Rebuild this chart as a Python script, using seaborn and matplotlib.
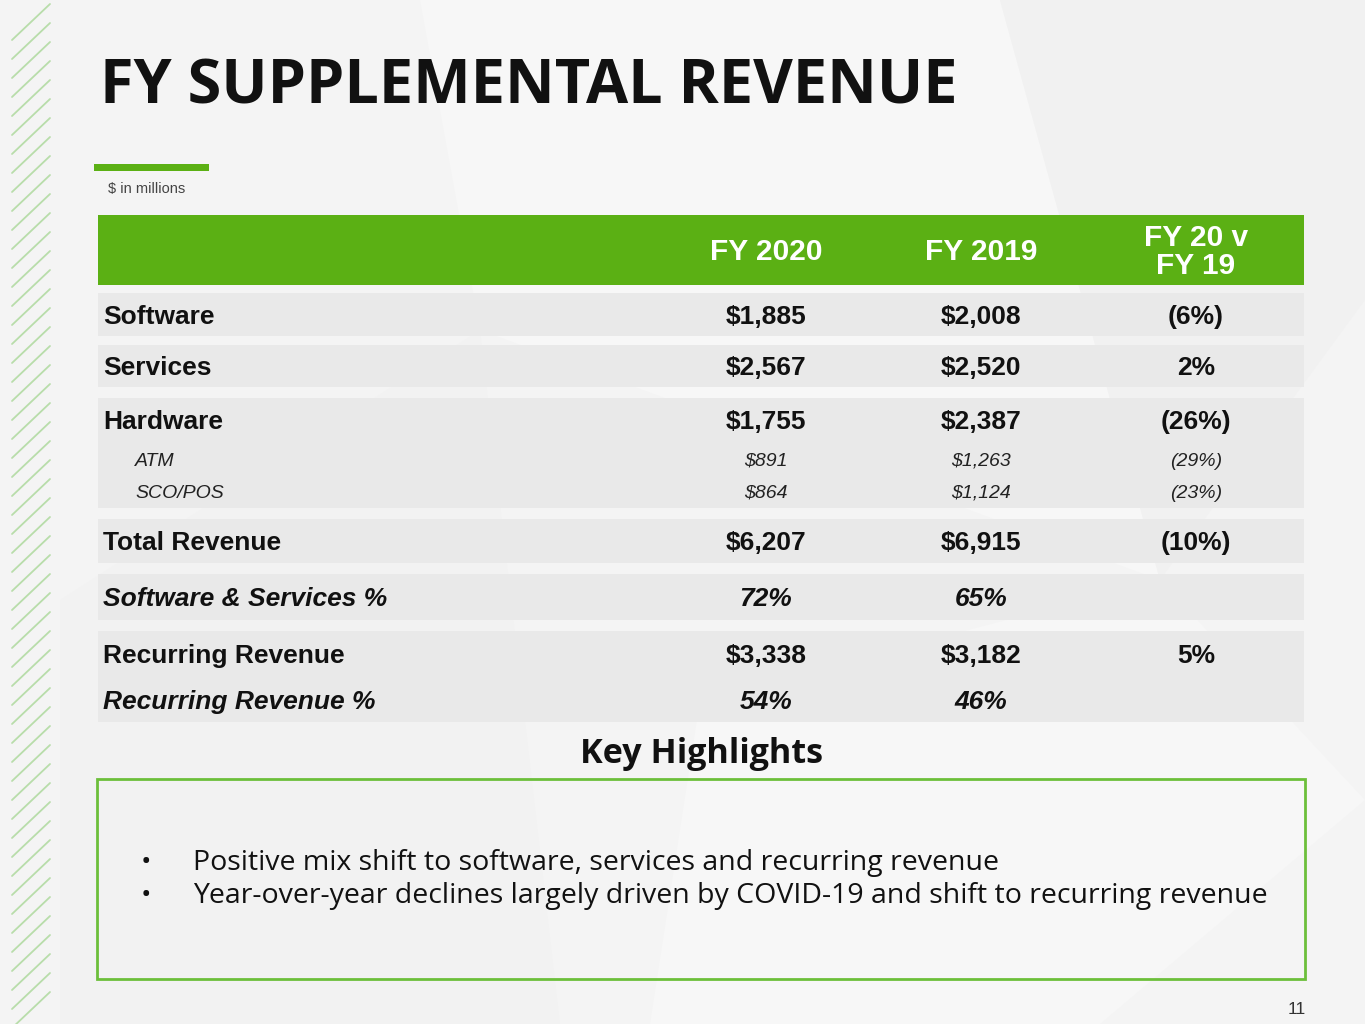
import matplotlib
matplotlib.use("Agg")
import matplotlib.pyplot as plt
from matplotlib.patches import Rectangle, Polygon
import seaborn as sns

# table data ($ in millions)
row_labels = ["Software", "Services", "Hardware", "ATM", "SCO/POS", "Total Revenue",
              "Software & Services %", "Recurring Revenue", "Recurring Revenue %"]
fy2020 = ["$1,885", "$2,567", "$1,755", "$891", "$864", "$6,207", "72%", "$3,338", "54%"]
fy2019 = ["$2,008", "$2,520", "$2,387", "$1,263", "$1,124", "$6,915", "65%", "$3,182", "46%"]
change = ["(6%)", "2%", "(26%)", "(29%)", "(23%)", "(10%)", "", "5%", ""]
col_headers = ["FY 2020", "FY 2019", "FY 20 v\nFY 19"]
highlights = ["Positive mix shift to software, services and recurring revenue",
              "Year-over-year declines largely driven by COVID-19 and shift to recurring revenue"]

# layout / style
row_kind = ["main", "main", "main", "sub", "sub", "main", "pct", "main", "pct"]
row_y = [317, 368, 422, 461, 493, 543, 599, 656, 702]
bands = [(293, 336), (345, 387), (398, 508), (519, 563), (574, 620), (631, 722)]
col_x = [766, 981, 1196]
GREEN = "#5bb014"
BAND = "#e9e9e9"
OPEN = ["Open Sans", "DejaVu Sans"]

sns.set_theme(style="white")
plt.rcParams["font.family"] = ["Liberation Sans", "DejaVu Sans"]

fig = plt.figure(figsize=(13.65, 10.24), dpi=100)
fig.patch.set_facecolor("#f4f4f4")
ax = fig.add_axes([0, 0, 1, 1])
ax.set_xlim(0, 1365)
ax.set_ylim(1024, 0)
ax.axis("off")

# faint background facets
for pts, c in [([(420, 0), (1000, 0), (1160, 580), (480, 330)], "#f7f7f7"),
               ([(1000, 0), (1365, 0), (1365, 300), (1160, 580)], "#f1f1f1"),
               ([(60, 600), (480, 330), (560, 1024), (60, 1024)], "#f2f2f2"),
               ([(700, 700), (1160, 580), (1365, 800), (1100, 1024), (650, 1024)], "#f7f7f7")]:
    ax.add_patch(Polygon(pts, closed=True, facecolor=c, edgecolor="none", zorder=0))

# left hatch stripes
for y0 in range(40, 1030, 19):
    ax.plot([12, 50], [y0, y0 - 36], color="#b8ddaa", lw=1.3, zorder=1)

ax.text(100, 104, "FY SUPPLEMENTAL REVENUE", fontsize=44, fontweight="bold",
        family=OPEN, color="#111111", va="baseline", ha="left")
ax.add_patch(Rectangle((94, 164), 115, 7, facecolor=GREEN, edgecolor="none", zorder=2))
ax.text(108, 189, "$ in millions", fontsize=10.5, color="#444444", va="center", ha="left")

# header band
ax.add_patch(Rectangle((98, 215), 1206, 70, facecolor=GREEN, edgecolor="none", zorder=2))
for x, h in zip(col_x, col_headers):
    ax.text(x, 252, h, fontsize=21.5, fontweight="bold", color="white", ha="center",
            va="center", linespacing=0.98, zorder=3)

for top, bot in bands:
    ax.add_patch(Rectangle((98, top), 1206, bot - top, facecolor=BAND, edgecolor="none", zorder=2))

for lab, a, b, c, y, kind in zip(row_labels, fy2020, fy2019, change, row_y, row_kind):
    if kind == "sub":
        kw = dict(fontsize=14, fontstyle="italic", color="#222222")
        lx = 135
    else:
        kw = dict(fontsize=19, fontweight="bold", color="#111111",
                  fontstyle="italic" if kind == "pct" else "normal")
        lx = 103
    ax.text(lx, y, lab, ha="left", va="center", zorder=3, **kw)
    for x, v in zip(col_x, [a, b, c]):
        ax.text(x, y, v, ha="center", va="center", zorder=3, **kw)

ax.text(701, 754, "Key Highlights", fontsize=24.6, fontweight="bold",
        family=OPEN, color="#111111", ha="center", va="center")
ax.add_patch(Rectangle((97, 779), 1208, 200, facecolor="none", edgecolor="#6cbf3a", lw=2, zorder=3))
for y, t in zip([863, 896], highlights):
    ax.text(146, y, "\u2022", fontsize=20, family=OPEN,
            color="#111111", ha="center", va="center")
    ax.text(193, y, t, fontsize=20.5, family=OPEN,
            color="#111111", ha="left", va="center")

ax.text(1306, 1010, "11", fontsize=12.5, color="#333333", ha="right", va="center")

fig.savefig("out.png", dpi=100, facecolor=fig.get_facecolor())
